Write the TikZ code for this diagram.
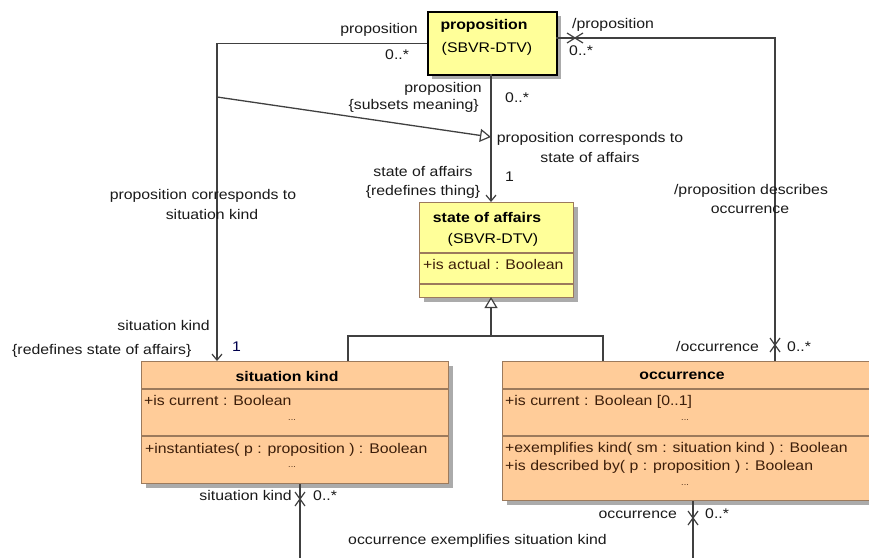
\documentclass[tikz,border=0pt]{standalone}
\usepackage{fontspec}
\setmainfont{Liberation Sans}[FakeStretch=1.13]
\usetikzlibrary{arrows.meta,shadows}
\definecolor{yel}{HTML}{FFFF99}
\definecolor{peach}{HTML}{FFCC99}
\definecolor{bord}{HTML}{9C7A5C}
\definecolor{linec}{HTML}{404040}
\definecolor{txt}{HTML}{1A1A1A}
\definecolor{attr}{HTML}{3C1E0A}
\definecolor{shad}{HTML}{ABABAB}
\begin{document}
\begin{tikzpicture}[x=1pt,y=-1pt,
  font=\fontsize{14}{19}\selectfont,
  cls/.style={draw=bord, line width=1.2pt, inner sep=0pt, anchor=north west,
    drop shadow={shadow xshift=4pt, shadow yshift=-4pt, fill=shad, opacity=1}},
  yelcls/.style={cls, fill=yel},
  pchcls/.style={cls, fill=peach},
  sep/.style={draw=bord, line width=1.2pt},
  conn/.style={draw=linec, line width=1.3pt},
  nav/.style={conn, -{Straight Barb[length=6pt,width=10pt,line width=1.2pt]}},
  gen/.style={conn, -{Triangle[open,length=11pt,width=13pt,fill=white,line width=1.2pt]}},
  lbl/.style={inner sep=0pt, text=txt, yshift=-3pt},
  ttl/.style={inner sep=0pt, text=black, yshift=-3pt, font=\fontsize{14}{19}\selectfont\bfseries},
  att/.style={inner sep=0pt, text=attr, anchor=mid west, yshift=-3pt},
  dots/.style={inner sep=0pt, text=attr, font=\fontsize{8}{8}\selectfont},
  xmk/.pic={\draw[linec, line width=1.2pt] (-5,-7)--(5,7) (-5,7)--(5,-7);},
  xmkh/.pic={\draw[linec, line width=1.2pt] (-8,-5)--(8,5) (-8,5)--(8,-5);}
]
\fill[white] (0,0) rectangle (869,557);
\useasboundingbox (0,0) rectangle (869,557);

% ---- class boxes ----
\node[cls, fill=yel, draw=black, line width=2pt, minimum width=129pt, minimum height=63pt] (prop) at (427,11) {};
\node[ttl] (propT) at (484,23) {proposition};
\node[lbl, text=black] (propS) at (487,46) {(SBVR-DTV)};

\node[yelcls, minimum width=154pt, minimum height=95pt] (soa) at (419,202) {};
\draw[sep] (419,253) -- (573,253);
\draw[sep] (419,284) -- (573,284);
\node[ttl] (soaT) at (487,214) {state of affairs};
\node[lbl, text=black] (soaS) at (493,237) {(SBVR-DTV)};
\node[att] (soaA) at (423,264) {+is actual\,\,: Boolean};

\node[pchcls, minimum width=307pt, minimum height=122pt] (sk) at (141,361) {};
\draw[sep] (141,389) -- (448,389);
\draw[sep] (141,436) -- (448,436);
\node[ttl] (skT) at (287,373) {situation kind};
\node[att] (skA) at (144,400) {+is current\,\,: Boolean};
\node[dots] (skD1) at (292,420) {...};
\node[att] (skO) at (145,448) {+instantiates( p : proposition ) : Boolean};
\node[dots] (skD2) at (292,467) {...};

\node[pchcls, minimum width=390pt, minimum height=139pt] (occ) at (502,361) {};
\draw[sep] (502,389) -- (892,389);
\draw[sep] (502,436) -- (892,436);
\node[ttl] (occT) at (682,373) {occurrence};
\node[att] (occA) at (505,400) {+is current\,\,: Boolean [0..1]};
\node[dots] (occD1) at (685,420) {...};
\node[att] (occO1) at (505,447) {+exemplifies kind( sm\,\,: situation kind\,\,) : Boolean};
\node[att] (occO2) at (505,465) {+is described by( p : proposition\,\,) : Boolean};
\node[dots] (occD2) at (685,485) {...};

% ---- connector end points ----
\coordinate (skIn) at (217,361);
\coordinate (subA) at (217,97);
\coordinate (subB) at (491,137);
\coordinate (soaTop) at (491,202);
\coordinate (propBot) at (491,74);
\coordinate (propR) at (556,38);
\coordinate (occIn) at (775,361);
\coordinate (soaBot) at (491,297);
\coordinate (genMid) at (491,336);
\coordinate (skG) at (348,361);
\coordinate (occG) at (603,361);
\coordinate (skOut) at (300,484);
\coordinate (skEnd) at (300,560);
\coordinate (occOut) at (693,501);
\coordinate (occEnd) at (693,560);

% ---- connectors ----
\draw[nav] (prop.west) -| (skIn);
\draw[gen] (subA) -- (subB);
\draw[nav] (propBot) -- (soaTop);
\draw[conn] (propR) -| (occIn);
\draw[gen] (skG) |- (genMid) -- (soaBot);
\draw[conn] (occG) |- (genMid);
\draw[conn] (skOut) -- (skEnd);
\draw[conn] (occOut) -- (occEnd);

\pic at (575,38) {xmkh};
\pic at (775,345) {xmk};
\pic at (300,499) {xmk};
\pic at (693,518) {xmk};

% ---- labels ----
\node[lbl, anchor=mid east] (l1) at (418,28) {proposition};
\node[lbl, anchor=mid west] (l2) at (385,54) {0..*};
\node[lbl, anchor=mid east] (l3) at (482,87) {proposition};
\node[lbl, anchor=mid east] (l4) at (479,104) {\{subsets meaning\}};
\node[lbl, anchor=mid west] (l5) at (505,97) {0..*};
\node[lbl, anchor=mid west] (l6) at (572,23) {/proposition};
\node[lbl, anchor=mid west] (l7) at (569,50) {0..*};
\node[lbl] (l8) at (590,136) {proposition corresponds to};
\node[lbl] (l9) at (590,154) {state of affairs};
\node[lbl] (l10) at (423,168) {state of affairs};
\node[lbl] (l11) at (423,189) {\{redefines thing\}};
\node[lbl, anchor=mid west] (l12) at (505,176) {1};
\node[lbl] (l13) at (751,188) {/proposition describes};
\node[lbl] (l14) at (750,207) {occurrence};
\node[lbl] (l15) at (203,193) {proposition corresponds to};
\node[lbl] (l16) at (212,211) {situation kind};
\node[lbl, anchor=mid east] (l17) at (210,325) {situation kind};
\node[lbl, anchor=mid west] (l18) at (12,349) {\{redefines state of affairs\}};
\node[lbl, anchor=mid west, text=black!70!blue] (l19) at (232,346) {1};
\node[lbl, anchor=mid east] (l20) at (759,346) {/occurrence};
\node[lbl, anchor=mid west] (l21) at (787,346) {0..*};
\node[lbl, anchor=mid east] (l22) at (292,495) {situation kind};
\node[lbl, anchor=mid west] (l23) at (313,495) {0..*};
\node[lbl, anchor=mid east] (l24) at (677,513) {occurrence};
\node[lbl, anchor=mid west] (l25) at (705,513) {0..*};
\node[lbl, anchor=mid west] (l26) at (348,539) {occurrence exemplifies situation kind};
\end{tikzpicture}
\end{document}
